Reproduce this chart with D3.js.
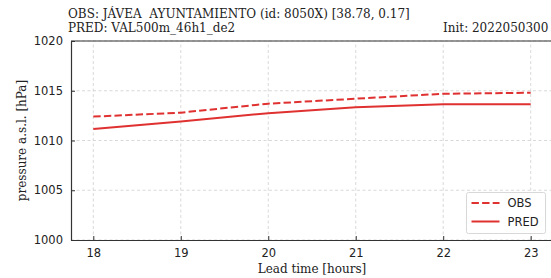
<!DOCTYPE html>
<html>
<head>
<meta charset="utf-8">
<script src="https://cdn.jsdelivr.net/npm/d3@7"></script>
<style>
  body { margin: 0; background: #fff; }
  svg { display: block; }
  text { white-space: pre; }
</style>
</head>
<body>
<div id="chart"></div>
<script>
// chart values
const leadHours = [18, 19, 20, 21, 22, 23];
const obsPressure = [1012.4, 1012.8, 1013.7, 1014.2, 1014.7, 1014.8];
const predPressure = [1011.15, 1011.9, 1012.75, 1013.35, 1013.65, 1013.65];
const yTicks = [1000, 1005, 1010, 1015, 1020];
const titleLines = ["OBS: JÁVEA  AYUNTAMIENTO (id: 8050X) [38.78, 0.17]", "PRED: VAL500m_46h1_de2"];
const initLabel = "Init: 2022050300";

const width = 551, height = 278;
const margin = {top: 41, right: -2, bottom: 38, left: 71};
const red = "#e03131";

const svg = d3.select("#chart").append("svg")
    .attr("width", width)
    .attr("height", height);

const x = d3.scaleLinear().domain([17.745, 23.255]).range([margin.left, width - margin.right]);
const y = d3.scaleLinear().domain([1000, 1020]).range([height - margin.bottom, margin.top]);

const g = svg.append("g");

// grid
g.selectAll(".vgrid").data(leadHours).enter().append("line")
    .attr("x1", d => x(d)).attr("x2", d => x(d))
    .attr("y1", y(1000)).attr("y2", y(1020))
    .attr("stroke", "#cfcfcf").attr("stroke-width", 0.8)
    .attr("stroke-dasharray", "3,2.5");
g.selectAll(".hgrid").data(yTicks).enter().append("line")
    .attr("x1", x.range()[0]).attr("x2", x.range()[1])
    .attr("y1", d => y(d)).attr("y2", d => y(d))
    .attr("stroke", "#cfcfcf").attr("stroke-width", 0.8)
    .attr("stroke-dasharray", "3,2.5");

// axes, ticks inward
const xAxis = g.append("g").attr("transform", `translate(0,${y(1000)})`)
    .call(d3.axisBottom(x).tickValues(leadHours).tickFormat(d3.format("d"))
        .tickSize(-4).tickPadding(9).tickSizeOuter(0));
const yAxis = g.append("g").attr("transform", `translate(${x(17.745)},0)`)
    .call(d3.axisLeft(y).tickValues(yTicks).tickFormat(d3.format("d"))
        .tickSize(-4).tickPadding(8).tickSizeOuter(0));

[xAxis, yAxis].forEach(a => {
    a.select(".domain").attr("stroke", "#333").attr("stroke-width", 1.2);
    a.selectAll(".tick line").attr("stroke", "#333").attr("stroke-width", 1);
    a.selectAll(".tick text").attr("fill", "#222")
        .style("font-family", "DejaVu Sans").style("font-size", "11.5px");
});

// top spine
g.append("line")
    .attr("x1", x.range()[0]).attr("x2", x.range()[1])
    .attr("y1", y(1020)).attr("y2", y(1020))
    .attr("stroke", "#333").attr("stroke-width", 1.2);

// lines
const line = (vals) => d3.line()
    .x((d, i) => x(leadHours[i]))
    .y(d => y(d))(vals);

g.append("path").attr("d", line(obsPressure))
    .attr("fill", "none").attr("stroke", red).attr("stroke-width", 2)
    .attr("stroke-dasharray", "7.4,3.2");
g.append("path").attr("d", line(predPressure))
    .attr("fill", "none").attr("stroke", red).attr("stroke-width", 2);

// legend
const lg = g.append("g").attr("transform", "translate(466.5,192.5)");
lg.append("rect").attr("width", 79).attr("height", 41).attr("rx", 2)
    .attr("fill", "#fff").attr("fill-opacity", 0.85)
    .attr("stroke", "#d8d8d8").attr("stroke-width", 1);
const legendItems = [{label: "OBS", dash: "7.4,3.2"}, {label: "PRED", dash: null}];
legendItems.forEach((d, i) => {
    const ly = 10.5 + i * 18.5;
    lg.append("line").attr("x1", 5).attr("x2", 33).attr("y1", ly).attr("y2", ly)
        .attr("stroke", red).attr("stroke-width", 2)
        .attr("stroke-dasharray", d.dash);
    lg.append("text").attr("x", 41).attr("y", ly + 4)
        .style("font-family", "DejaVu Sans").style("font-size", "11.5px")
        .attr("fill", "#222").text(d.label);
});

// titles
titleLines.forEach((t, i) => {
    svg.append("text").attr("x", 68).attr("y", 18 + i * 14)
        .style("font-family", "DejaVu Serif").style("font-size", "12px")
        .attr("fill", "#222").text(t);
});
svg.append("text").attr("x", 443).attr("y", 32)
    .style("font-family", "DejaVu Serif").style("font-size", "12px")
    .attr("fill", "#222").text(initLabel);

// axis labels
svg.append("text")
    .attr("x", (margin.left + 553) / 2).attr("y", 273)
    .attr("text-anchor", "middle")
    .style("font-family", "DejaVu Serif").style("font-size", "12px")
    .attr("fill", "#222").text("Lead time [hours]");
svg.append("text")
    .attr("transform", `translate(26,${(y(1000) + y(1020)) / 2}) rotate(-90)`)
    .attr("text-anchor", "middle")
    .style("font-family", "DejaVu Serif").style("font-size", "12px")
    .attr("fill", "#222").text("pressure a.s.l. [hPa]");
</script>
</body>
</html>
